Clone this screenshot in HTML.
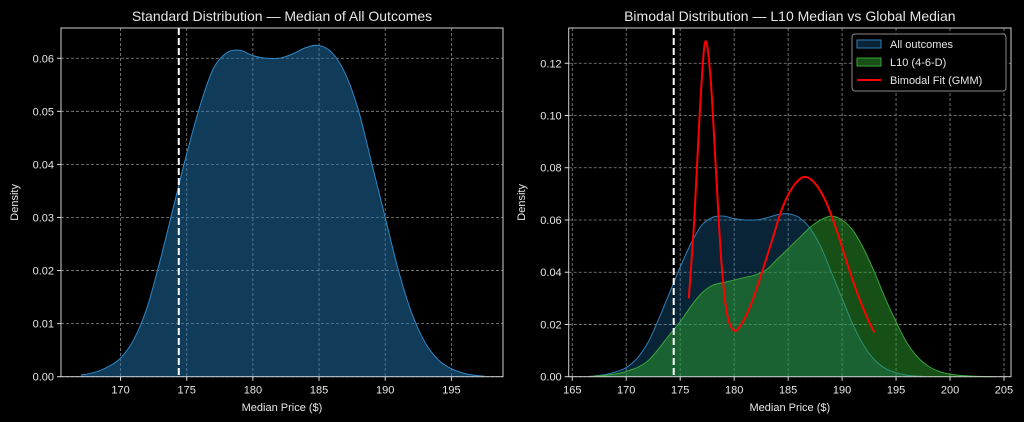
<!DOCTYPE html>
<html><head><meta charset="utf-8"><style>
html,body{margin:0;padding:0;background:#000;}
svg{display:block;font-family:"Liberation Sans","DejaVu Sans",sans-serif;}
</style></head><body>
<svg id="c" width="1024" height="422" viewBox="0 0 1024 422"></svg>
<script>
const allX=[167,168,169,170,171,172,173,174,175,176,177,178,179,180,181,182,183,184,185,186,187,188,189,190,191,192,193,194,195,196,197,197.5];
const allY=[0.0003,0.0008,0.0018,0.0035,0.007,0.013,0.022,0.032,0.042,0.051,0.058,0.061,0.0615,0.0605,0.060,0.060,0.0608,0.062,0.0624,0.061,0.057,0.050,0.040,0.030,0.020,0.012,0.0065,0.0032,0.0015,0.0006,0.0002,0.0001];
const l10X=[166.5,168,170,172,174,175,176,177,178,179,180,181,182,183,184,185,186,187,188,189,190,191,192,193,194,195,196,197,198,199,200,202,204];
const l10Y=[0.0001,0.0005,0.002,0.006,0.016,0.021,0.027,0.032,0.035,0.036,0.037,0.038,0.039,0.041,0.045,0.049,0.053,0.057,0.060,0.0615,0.060,0.056,0.049,0.040,0.030,0.021,0.013,0.0075,0.004,0.002,0.001,0.0002,0];
const gmmX=[175.8,176.3,176.8,177.3,177.8,178.3,178.8,179.3,179.9,180.5,181.5,182.5,183.5,184.5,185.5,186.5,187.5,188.5,189.5,190.5,191.5,192.5,193];
const gmmY=[0.030,0.06,0.10,0.128,0.115,0.08,0.045,0.025,0.018,0.019,0.027,0.039,0.052,0.065,0.073,0.0765,0.074,0.067,0.056,0.043,0.031,0.021,0.017];
const medianX=174.4;
const leftXTicks=[170,175,180,185,190,195];
const leftYTicks=[0,0.01,0.02,0.03,0.04,0.05,0.06];
const rightXTicks=[165,170,175,180,185,190,195,200,205];
const rightYTicks=[0,0.02,0.04,0.06,0.08,0.10,0.12];

const NS="http://www.w3.org/2000/svg";
const svg=document.getElementById('c');
function el(tag,attrs,parent,text){const e=document.createElementNS(NS,tag);for(const k in attrs)e.setAttribute(k,attrs[k]);if(text!==undefined)e.textContent=text;(parent||svg).appendChild(e);return e;}
function smooth(pts){let d=`M${pts[0][0]},${pts[0][1]}`;for(let i=0;i<pts.length-1;i++){const p0=pts[i-1]||pts[i],p1=pts[i],p2=pts[i+1],p3=pts[i+2]||p2;
const c1=[p1[0]+(p2[0]-p0[0])/6,p1[1]+(p2[1]-p0[1])/6],c2=[p2[0]-(p3[0]-p1[0])/6,p2[1]-(p3[1]-p1[1])/6];
d+=` C${c1[0]},${c1[1]} ${c2[0]},${c2[1]} ${p2[0]},${p2[1]}`;}return d;}

function panel(o){
 const g=el('g',{});
 const sx=v=>o.x0+(v-o.xmin)/(o.xmax-o.xmin)*(o.x1-o.x0);
 const sy=v=>o.y1-(v-o.ymin)/(o.ymax-o.ymin)*(o.y1-o.y0);
 // grid
 o.xt.forEach(t=>{const l=el('line',{x1:sx(t),x2:sx(t),y1:o.y0,y2:o.y1,stroke:'#8a8a8a','stroke-width':0.8,'stroke-dasharray':'3,2'},g);});
 o.yt.forEach(t=>{const l=el('line',{x1:o.x0,x2:o.x1,y1:sy(t),y2:sy(t),stroke:'#8a8a8a','stroke-width':0.8,'stroke-dasharray':'3,2'},g);});
 o.series.forEach(s=>{
  const pts=s.x.map((v,i)=>[sx(v),sy(s.y[i])]);
  if(s.fill){const d=smooth(pts)+` L${pts[pts.length-1][0]},${sy(0)} L${pts[0][0]},${sy(0)} Z`;
   const p=el('path',{d:d,fill:s.fill,stroke:'none'},g);}
  const p=el('path',{d:smooth(pts),fill:'none',stroke:s.stroke,'stroke-width':s.w||1},g);
 });
 const m=el('line',{x1:sx(medianX),x2:sx(medianX),y1:o.y0,y2:o.y1,stroke:'#ffffff','stroke-width':2,'stroke-dasharray':'7,3'},g);
 
 const f=el('rect',{x:o.x0,y:o.y0,width:o.x1-o.x0,height:o.y1-o.y0,fill:'none',stroke:'#d0d0d0','stroke-width':1},g);
 
 o.xt.forEach(t=>{el('line',{x1:sx(t),x2:sx(t),y1:o.y1,y2:o.y1+4,stroke:'#ddd'},g);
  const tx=el('text',{x:sx(t),y:o.y1+17,fill:'#e6e6e6','font-size':11,'text-anchor':'middle'},g,String(t));});
 o.yt.forEach(t=>{el('line',{x1:o.x0-4,x2:o.x0,y1:sy(t),y2:sy(t),stroke:'#ddd'},g);
  const tx=el('text',{x:o.x0-7,y:sy(t)+4,fill:'#e6e6e6','font-size':11,'text-anchor':'end'},g,t.toFixed(o.dec));});
 const ti=el('text',{x:(o.x0+o.x1)/2,y:21,fill:'#e6e6e6','font-size':14,'text-anchor':'middle'},g,o.title);
 const xl=el('text',{x:(o.x0+o.x1)/2,y:411,fill:'#e6e6e6','font-size':11,'text-anchor':'middle'},g,'Median Price ($)');
 const yl=el('text',{x:0,y:0,fill:'#e6e6e6','font-size':11,'text-anchor':'middle',transform:`translate(${o.ylx},${(o.y0+o.y1)/2}) rotate(-90)`},g,'Density');
 return {sx,sy,g};
}
panel({name:'standard-distribution-panel',x0:61,x1:503,y0:28,y1:376.7,xmin:165.5,xmax:198.9,ymin:0,ymax:0.0657,xt:leftXTicks,yt:leftYTicks,dec:2,
 title:'Standard Distribution — Median of All Outcomes',ylx:18,
 series:[{name:'all-outcomes',x:allX,y:allY,fill:'rgba(31,119,180,0.5)',stroke:'#2f86c4'}]});
const R=panel({name:'bimodal-distribution-panel',x0:568.7,x1:1011,y0:28,y1:376.7,xmin:164.67,xmax:205.65,ymin:0,ymax:0.1335,xt:rightXTicks,yt:rightYTicks,dec:2,
 title:'Bimodal Distribution — L10 Median vs Global Median',ylx:525,
 series:[{name:'all-outcomes',x:allX,y:allY,fill:'rgba(31,119,180,0.3)',stroke:'#2f7fb8'},
 {name:'l10',x:l10X,y:l10Y,fill:'rgba(44,160,44,0.5)',stroke:'#3aa53a'},
 {name:'bimodal-fit-gmm',x:gmmX,y:gmmY,stroke:'#ff0000',w:2}]});
// legend
const lg=el('g',{});
el('rect',{x:852,y:34,width:154,height:57,rx:3,fill:'#000',stroke:'#888','stroke-width':1},lg);
const items=[['All outcomes','rgba(31,119,180,0.3)','#2f7fb8','rect'],['L10 (4-6-D)','rgba(44,160,44,0.5)','#3aa53a','rect'],['Bimodal Fit (GMM)','#ff0000','#ff0000','line']];
items.forEach((it,i)=>{const y=44+i*18;const e=el('g',{},lg);
 if(it[3]==='rect')el('rect',{x:857,y:y-4,width:24,height:8,fill:it[1],stroke:it[2]},e);else el('line',{x1:857,x2:881,y1:y,y2:y,stroke:it[2],'stroke-width':2},e);
 el('text',{x:890,y:y+4,fill:'#e6e6e6','font-size':11},e,it[0]);});
</script>
</body></html>
